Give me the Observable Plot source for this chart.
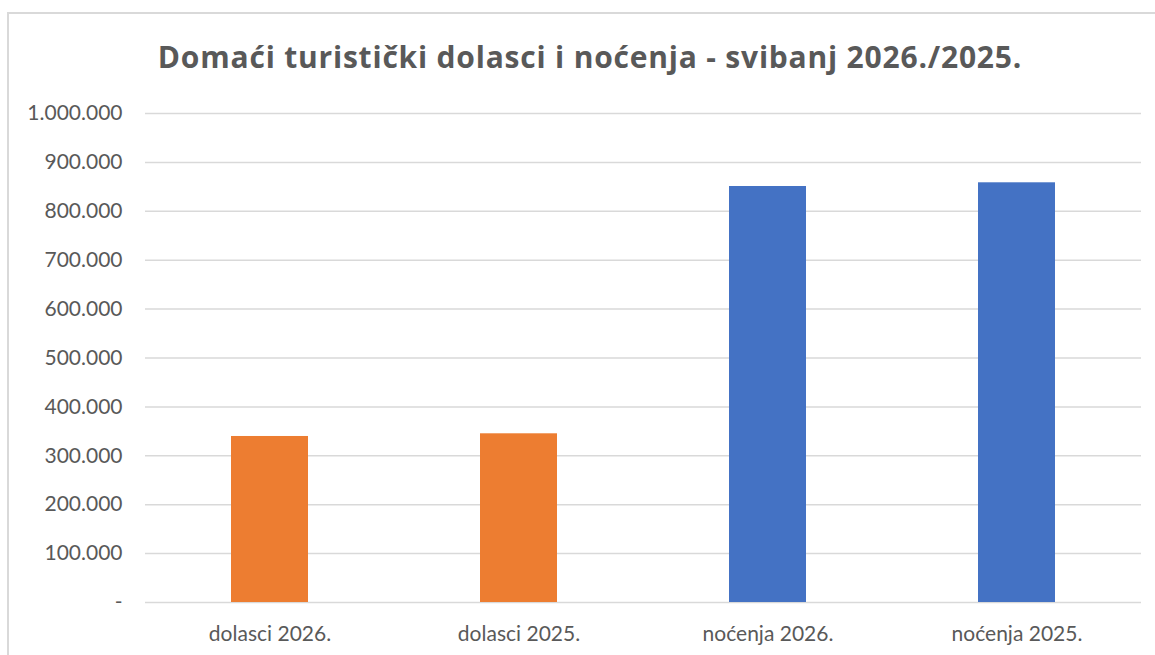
<!DOCTYPE html>
<html><head><meta charset="utf-8">
<script src="https://cdn.jsdelivr.net/npm/d3@7"></script>
<script src="https://cdn.jsdelivr.net/npm/@observablehq/plot@0.6"></script>
<style>
body{margin:0;background:#fff;}
#wrap{position:relative;width:1155px;height:655px;overflow:hidden;font-family:Lato,"Noto Sans",sans-serif;background:#fff;}
#frame{position:absolute;left:7px;top:12px;width:1200px;height:700px;border:2px solid #d9d9d9;box-sizing:border-box;}
#title{position:absolute;left:0;top:38px;width:1180px;text-align:center;font-family:"Open Sans",sans-serif;font-weight:bold;font-size:30px;letter-spacing:0.8px;color:#595959;line-height:38px;white-space:nowrap;}
#chart{position:absolute;left:0;top:90px;}
</style></head>
<body>
<div id="wrap">
  <div id="frame"></div>
  <div id="title">Domaći turistički dolasci i noćenja - svibanj 2026./2025.</div>
  <div id="chart"></div>
</div>
<script>
const categories = ["dolasci 2026.", "dolasci 2025.", "noćenja 2026.", "noćenja 2025."];
const values = [339500, 345000, 850700, 858300];
const groups = ["dolasci", "dolasci", "noćenja", "noćenja"];
const yTicks = [0, 100000, 200000, 300000, 400000, 500000, 600000, 700000, 800000, 900000, 1000000];
const groupColors = {"dolasci": "#ED7D31", "noćenja": "#4472C4"};

const data = categories.map((c, i) => ({category: c, value: values[i], group: groups[i]}));
const loc = d3.formatLocale({thousands: ".", grouping: [3], decimal: ",", currency: ["", ""]});
const fmt = loc.format(",");
const tickFormat = d => d === 0 ? "-" : fmt(d);

const chart = Plot.plot({
  width: 1155,
  height: 565,
  marginLeft: 145,
  marginRight: 14,
  marginTop: 23,
  marginBottom: 53,
  style: {fontFamily: "Lato, 'Noto Sans', sans-serif", fontSize: "21px", color: "#595959", background: "transparent"},
  x: {domain: categories, paddingInner: 0.69, paddingOuter: 0.345},
  y: {domain: [0, 1000000]},
  color: {domain: Object.keys(groupColors), range: Object.values(groupColors)},
  marks: [
    Plot.ruleY(yTicks, {stroke: "#d9d9d9", strokeWidth: 1.5}),
    Plot.barY(data, {x: "category", y: "value", fill: "group"}),
    Plot.axisY(yTicks, {tickSize: 0, tickPadding: 23, tickFormat, label: null, fill: "#595959", fontSize: 21}),
    Plot.axisX({tickSize: 0, tickPadding: 24, label: null, fill: "#595959", fontSize: 21})
  ]
});
document.getElementById("chart").appendChild(chart);
</script>
</body></html>
